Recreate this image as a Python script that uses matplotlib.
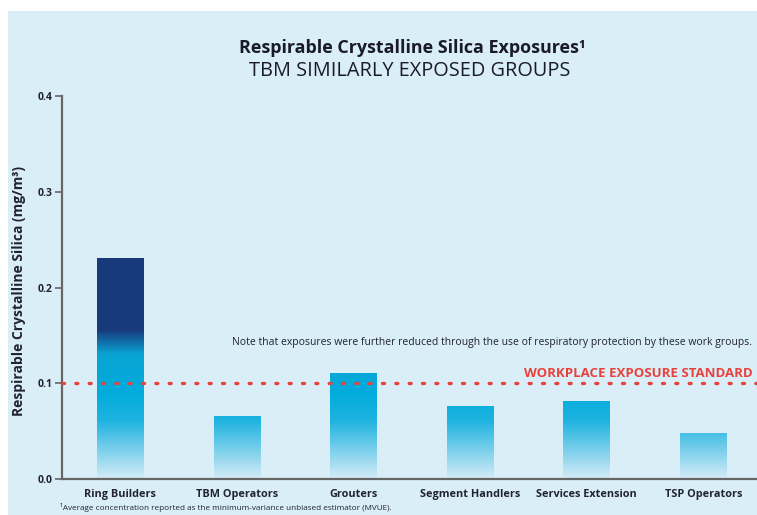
import numpy as np
import matplotlib
matplotlib.use("Agg")
import matplotlib.pyplot as plt
from matplotlib.colors import LinearSegmentedColormap, Normalize
from matplotlib.patches import Rectangle

categories = ["Ring Builders", "TBM Operators", "Grouters", "Segment Handlers",
              "Services Extension", "TSP Operators"]
values = [0.23, 0.065, 0.11, 0.076, 0.081, 0.048]
yticks = [0.0, 0.1, 0.2, 0.3, 0.4]
standard = 0.1

plt.rcParams['font.family'] = ['Open Sans', 'DejaVu Sans']

fig = plt.figure(figsize=(7.57, 5.15), dpi=100)
fig.patch.set_facecolor("white")
fig.patches.append(Rectangle((8/757, 0), 1, 1 - 11/515, transform=fig.transFigure,
                             facecolor="#d9eef7", edgecolor="none", zorder=-10))

ax = fig.add_axes([62/757, 1 - 479/515, 1 - 62/757, (479 - 96)/515])
ax.set_facecolor("none")

# gradient colour by value
cmap = LinearSegmentedColormap.from_list("grad", [
    (0.0, "#d3ebf7"),
    (0.06/0.4, "#1fb3e0"),
    (0.09/0.4, "#00acdc"),
    (0.13/0.4, "#0aa4d4"),
    (0.155/0.4, "#183a7c"),
    (1.0, "#183a7c"),
])
norm = Normalize(0, 0.4)
bw = 0.4
for i, v in enumerate(values):
    grad = np.linspace(0, v, 256).reshape(-1, 1)
    ax.imshow(grad, extent=[i - bw/2, i + bw/2, 0, v], origin="lower",
              cmap=cmap, norm=norm, aspect="auto", zorder=2, interpolation="bilinear")
ax.set_xlim(-0.5, 5.46)
ax.set_ylim(0, 0.4)

ax.axhline(standard, color="#e8423c", lw=2.4, dashes=[0.6, 3.4],
           dash_capstyle="round", zorder=3)

ax.text(3.465, 0.1107, "WORKPLACE EXPOSURE STANDARD", color="#e8423c",
        fontsize=9.5, fontweight="bold", ha="left", va="center", zorder=4)
ax.text(0.96, 0.143, "Note that exposures were further reduced through the use of respiratory protection by these work groups.",
        color="#222233", fontsize=7.45, ha="left", va="center", zorder=4)

for s in ["top", "right"]:
    ax.spines[s].set_visible(False)
for s in ["left", "bottom"]:
    ax.spines[s].set_color("#666666")
    ax.spines[s].set_linewidth(1.6)

ax.set_yticks(yticks)
ax.set_yticklabels([f"{t:.1f}" for t in yticks], fontsize=7.5, fontweight="bold", color="#222233")
ax.tick_params(axis="y", length=5, width=1.2, color="#666666", pad=2)
ax.set_xticks(range(len(categories)))
ax.set_xticklabels(categories, fontsize=7.8, fontweight="bold", color="#222233")
ax.tick_params(axis="x", length=0, pad=7)

ax.set_ylabel("Respirable Crystalline Silica (mg/m³)", fontsize=10, fontweight="bold",
              color="#222233", labelpad=8)
ax.yaxis.set_label_coords(-0.052, 0.49)

fig.text(412/757, 1 - 48/515, "Respirable Crystalline Silica Exposures¹", fontsize=12.9,
         fontweight="bold", ha="center", va="center", color="#1a1a2a")
fig.text(410/757, 1 - 71/515, "TBM SIMILARLY EXPOSED GROUPS", fontsize=14.3,
         ha="center", va="center", color="#1a1a2a")
fig.text(60/757, 1 - 508/515, "¹Average concentration reported as the minimum-variance unbiased estimator (MVUE).",
         fontsize=5.9, ha="left", va="center", color="#222233")

fig.savefig("out.png", dpi=100)
